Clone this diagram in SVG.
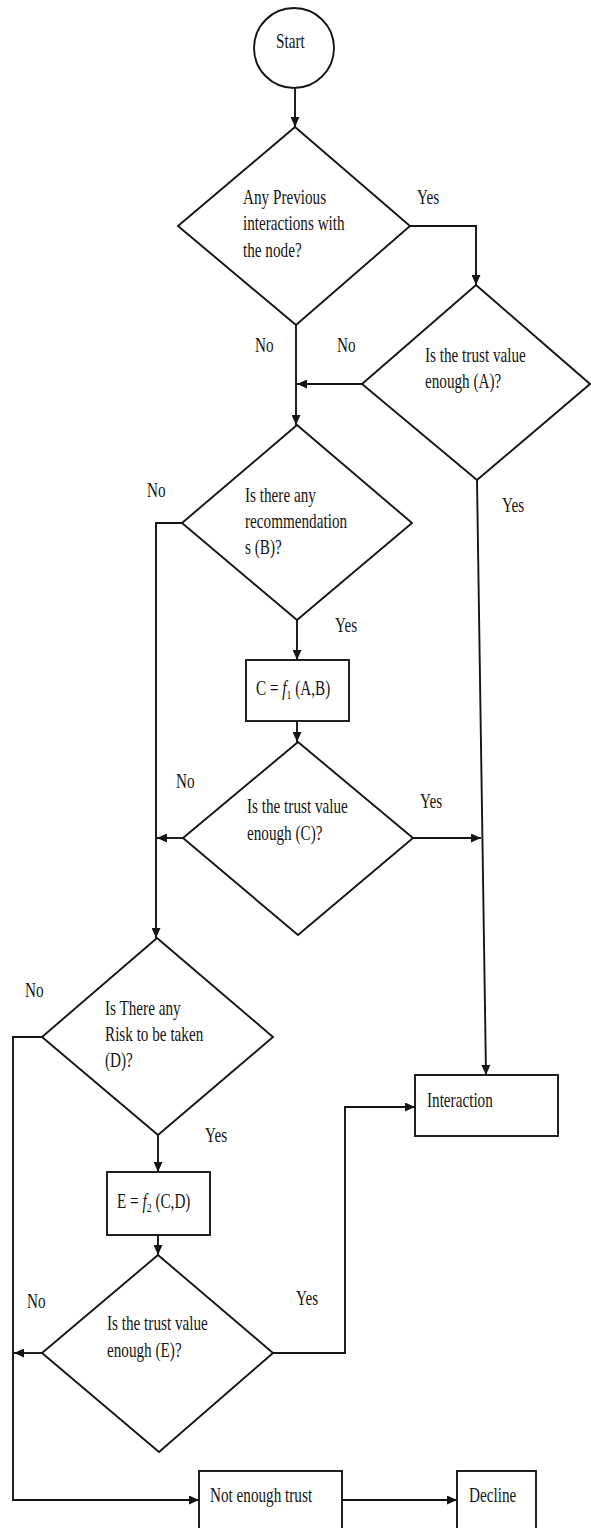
<svg xmlns="http://www.w3.org/2000/svg" width="591" height="1528" viewBox="0 0 591 1528">
<style>
.s{fill:#fff;stroke:#151515;stroke-width:1.9}
.c{fill:none;stroke:#151515;stroke-width:1.9}
.t{font-family:"Liberation Serif","Times New Roman",serif;font-size:20px;fill:#151515}
</style>
<defs>
<marker id="ah" markerUnits="userSpaceOnUse" markerWidth="10" markerHeight="9" refX="10" refY="4.5" orient="auto">
<path d="M0,0 L10,4.5 L0,9 z" fill="#151515"/>
</marker>
</defs>
<rect width="591" height="1528" fill="#fff"/>
<g id="connectors">
<path class="c" d="M295,88 V127" marker-end="url(#ah)"/>
<path class="c" d="M410,226 H476 V285" marker-end="url(#ah)"/>
<path class="c" d="M296,325 V425" marker-end="url(#ah)"/>
<path class="c" d="M362,384 H297" marker-end="url(#ah)"/>
<path class="c" d="M477,480 L486,1075" marker-end="url(#ah)"/>
<path class="c" d="M297,620 V660" marker-end="url(#ah)"/>
<path class="c" d="M297,721 V742" marker-end="url(#ah)"/>
<path class="c" d="M182,523 H156 V938" marker-end="url(#ah)"/>
<path class="c" d="M183,838 H157" marker-end="url(#ah)"/>
<path class="c" d="M413,838 H481" marker-end="url(#ah)"/>
<path class="c" d="M158,1135 V1172" marker-end="url(#ah)"/>
<path class="c" d="M158,1235 V1255" marker-end="url(#ah)"/>
<path class="c" d="M42,1037 H13 V1500 H199" marker-end="url(#ah)"/>
<path class="c" d="M42,1353 H14" marker-end="url(#ah)"/>
<path class="c" d="M273,1353 H345 V1107 H415" marker-end="url(#ah)"/>
<path class="c" d="M342,1500 H457" marker-end="url(#ah)"/>
</g>
<g id="labels">
<text class="t" transform="translate(417,204) scale(0.76,1)">Yes</text>
<text class="t" transform="translate(255,352) scale(0.76,1)">No</text>
<text class="t" transform="translate(337,352) scale(0.76,1)">No</text>
<text class="t" transform="translate(147,497) scale(0.76,1)">No</text>
<text class="t" transform="translate(502,512) scale(0.76,1)">Yes</text>
<text class="t" transform="translate(335,632) scale(0.76,1)">Yes</text>
<text class="t" transform="translate(176,788) scale(0.76,1)">No</text>
<text class="t" transform="translate(420,808) scale(0.76,1)">Yes</text>
<text class="t" transform="translate(25,997) scale(0.76,1)">No</text>
<text class="t" transform="translate(205,1142) scale(0.76,1)">Yes</text>
<text class="t" transform="translate(27,1308) scale(0.76,1)">No</text>
<text class="t" transform="translate(296,1305) scale(0.76,1)">Yes</text>
</g>
<g id="start">
<circle class="s" cx="294" cy="48" r="40"/>
<text class="t" transform="translate(276,48) scale(0.76,1)">Start</text>
</g>
<g id="q-previous">
<polygon class="s" points="295,127 410,226 296,325 178,226"/>
<text class="t" transform="translate(243,204) scale(0.76,1)">Any Previous</text>
<text class="t" transform="translate(243,230) scale(0.76,1)">interactions with</text>
<text class="t" transform="translate(243,257) scale(0.76,1)">the node?</text>
</g>
<g id="q-trust-a">
<polygon class="s" points="476,285 590,384 477,480 362,384"/>
<text class="t" transform="translate(425,362) scale(0.76,1)">Is the trust value</text>
<text class="t" transform="translate(425,388) scale(0.76,1)">enough (A)?</text>
</g>
<g id="q-recommend">
<polygon class="s" points="297,425 412,523 297,620 182,523"/>
<text class="t" transform="translate(245,502) scale(0.76,1)">Is there any</text>
<text class="t" transform="translate(245,528) scale(0.76,1)">recommendation</text>
<text class="t" transform="translate(245,554) scale(0.76,1)">s (B)?</text>
</g>
<g id="calc-c">
<rect class="s" x="246" y="660" width="103" height="61"/>
<text class="t" transform="translate(256,695) scale(0.76,1)">C = <tspan font-style="italic">f</tspan><tspan font-size="13" dy="4">1</tspan><tspan dy="-4"> (A,B)</tspan></text>
</g>
<g id="q-trust-c">
<polygon class="s" points="298,742 413,838 298,935 183,838"/>
<text class="t" transform="translate(247,813) scale(0.76,1)">Is the trust value</text>
<text class="t" transform="translate(247,840) scale(0.76,1)">enough (C)?</text>
</g>
<g id="q-risk">
<polygon class="s" points="157,938 273,1037 158,1135 42,1037"/>
<text class="t" transform="translate(105,1015) scale(0.76,1)">Is There any</text>
<text class="t" transform="translate(105,1041) scale(0.76,1)">Risk to be taken</text>
<text class="t" transform="translate(105,1067) scale(0.76,1)">(D)?</text>
</g>
<g id="calc-e">
<rect class="s" x="107" y="1172" width="103" height="63"/>
<text class="t" transform="translate(117,1208) scale(0.76,1)">E = <tspan font-style="italic">f</tspan><tspan font-size="13" dy="4">2</tspan><tspan dy="-4"> (C,D)</tspan></text>
</g>
<g id="q-trust-e">
<polygon class="s" points="158,1255 273,1353 159,1452 42,1353"/>
<text class="t" transform="translate(107,1330) scale(0.76,1)">Is the trust value</text>
<text class="t" transform="translate(107,1357) scale(0.76,1)">enough (E)?</text>
</g>
<g id="interaction">
<rect class="s" x="415" y="1075" width="143" height="61"/>
<text class="t" transform="translate(427,1107) scale(0.76,1)">Interaction</text>
</g>
<g id="not-enough-trust">
<rect class="s" x="199" y="1471" width="143" height="80"/>
<text class="t" transform="translate(210,1502) scale(0.76,1)">Not enough trust</text>
</g>
<g id="decline">
<rect class="s" x="457" y="1471" width="79" height="80"/>
<text class="t" transform="translate(469,1502) scale(0.76,1)">Decline</text>
</g>
</svg>
